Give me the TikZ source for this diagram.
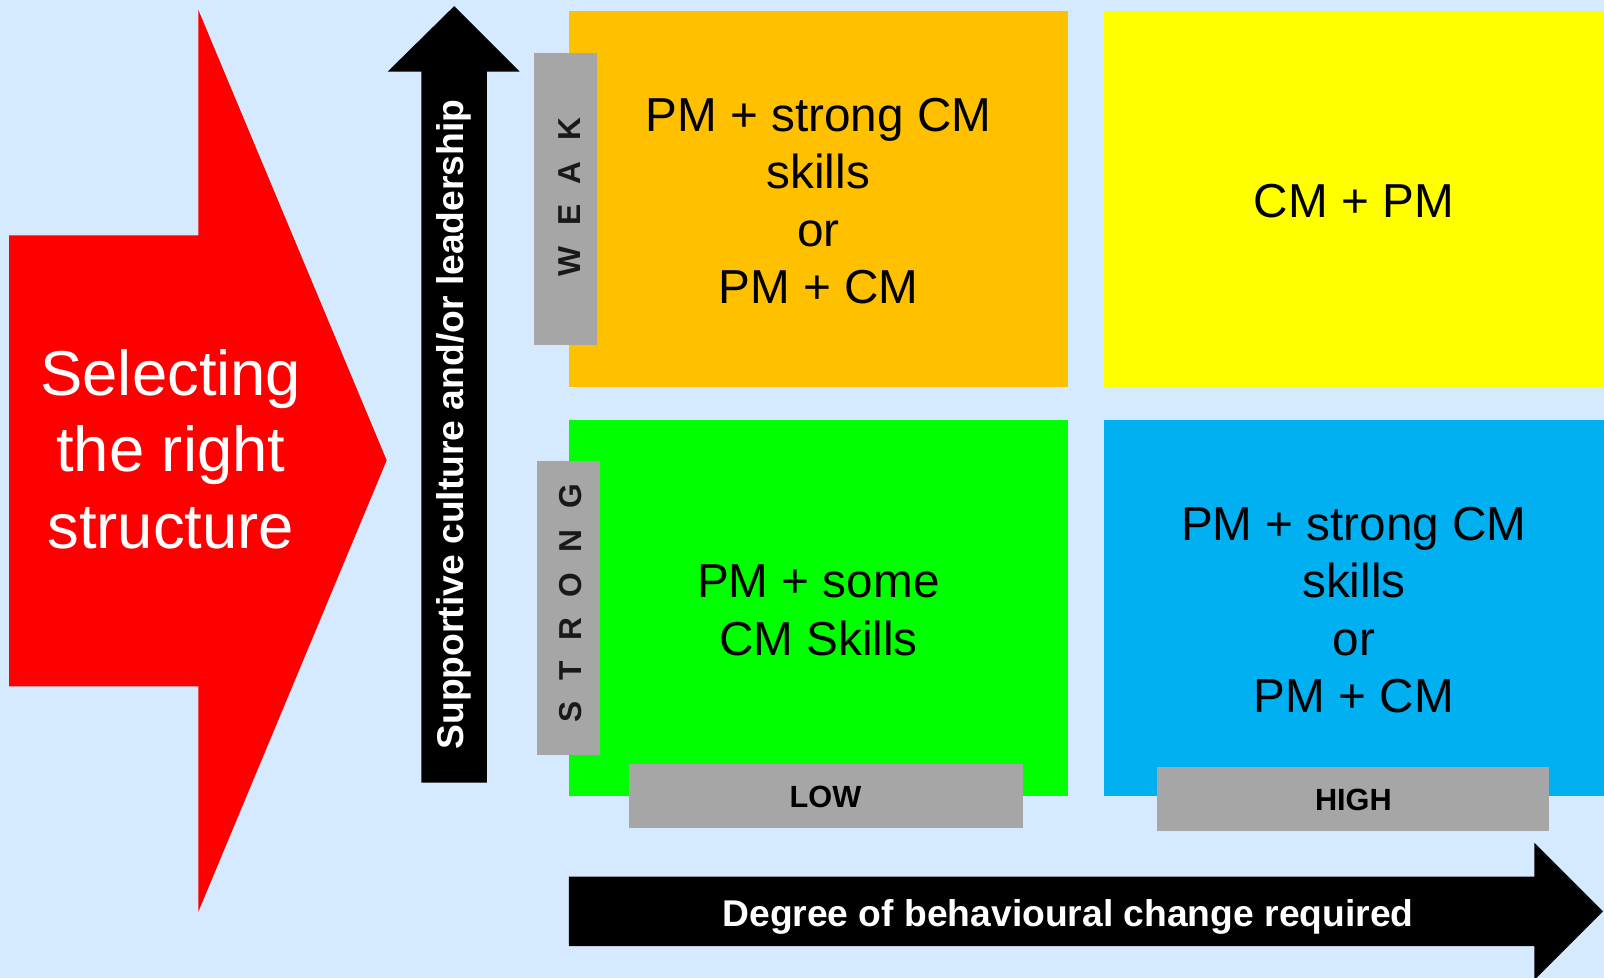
\documentclass[tikz,border=0pt]{standalone}
\usepackage{fontspec}
\setmainfont{Liberation Sans}
\definecolor{bgblue}{RGB}{214,234,255}
\definecolor{redA}{RGB}{255,0,0}
\definecolor{orangeQ}{RGB}{255,192,0}
\definecolor{yellowQ}{RGB}{255,255,0}
\definecolor{greenQ}{RGB}{0,255,0}
\definecolor{blueQ}{RGB}{0,176,240}
\definecolor{grayL}{RGB}{166,166,166}
\newcommand\lsp{\hspace{10pt}}
\begin{document}
\begin{tikzpicture}[x=0.5pt,y=-0.5pt,
  quad/.style={inner sep=0pt, outer sep=0pt, minimum width=244pt, minimum height=183.5pt},
  quadtext/.style={inner sep=0pt, align=center, font=\fontsize{23.3}{28}\selectfont},
  graybox/.style={fill=grayL, inner sep=0pt, outer sep=0pt},
  axislbl/.style={inner sep=0pt, font=\fontsize{15.5}{18}\selectfont\bfseries, text=black!90},
  scalelbl/.style={inner sep=0pt, font=\fontsize{15}{18}\selectfont\bfseries},
  arrowtxt/.style={inner sep=0pt, text=white, font=\fontsize{18.2}{21}\selectfont\bfseries}
]
\useasboundingbox (0,0) rectangle (1568,956);
\clip (0,0) rectangle (1568,956);
\fill[bgblue] (0,0) rectangle (1568,956);

% red arrow
\fill[redA] (9,230) -- (194,230) -- (194,10) -- (378,450) -- (194,891) -- (194,671) -- (9,671) -- cycle;
\node[inner sep=0pt, text=white, align=center, font=\fontsize{31}{37.5}\selectfont] (sel) at (167,439) {Selecting\\the right\\structure};

% vertical black arrow
\fill[black] (412,765) -- (412,70) -- (379,70) -- (444,6) -- (508,70) -- (476,70) -- (476,765) -- cycle;
\node[arrowtxt, rotate=90] (vtxt) at (444,415) {Supportive culture and/or leadership};

% horizontal black arrow
\fill[black] (556,857) -- (1500,857) -- (1500,824) -- (1567,891) -- (1500,958) -- (1500,925) -- (556,925) -- cycle;
\node[arrowtxt] (htxt) at (1044,896) {Degree of behavioural change required};

% quadrants
\node[quad, fill=orangeQ] (q1) at (800,194.5) {};
\node[quadtext] (t1) at (800,196.5) {PM + strong CM\\skills\\or\\PM + CM};
\node[quad, fill=yellowQ, minimum width=244.5pt] (q2) at (1323.5,194.5) {};
\node[quadtext] (t2) at (1323.5,196.5) {CM + PM};
\node[quad, fill=greenQ] (q3) at (800,594.5) {};
\node[quadtext] (t3) at (800,596.5) {PM + some\\CM Skills};
\node[quad, fill=blueQ, minimum width=244.5pt] (q4) at (1323.5,594.5) {};
\node[quadtext] (t4) at (1323.5,596.5) {PM + strong CM\\skills\\or\\PM + CM};

% gray labels
\node[graybox, minimum width=31pt, minimum height=143pt] (weakbox) at (553,194.5) {};
\node[axislbl, rotate=90] (weak) at (556.5,192.5) {W\lsp E\lsp A\lsp K};
\node[graybox, minimum width=31pt, minimum height=143.5pt] (strongbox) at (556,594.5) {};
\node[axislbl, rotate=90] (strong) at (557.5,589.5) {S\lsp T\lsp R\lsp O\lsp N\lsp G};
\node[graybox, minimum width=192.5pt, minimum height=31.25pt] (lowbox) at (807.5,777.75) {};
\node[scalelbl] (low) at (807,779) {LOW};
\node[graybox, minimum width=192pt, minimum height=31pt] (highbox) at (1322.7,781) {};
\node[scalelbl] (high) at (1323,782) {HIGH};
\end{tikzpicture}
\end{document}
